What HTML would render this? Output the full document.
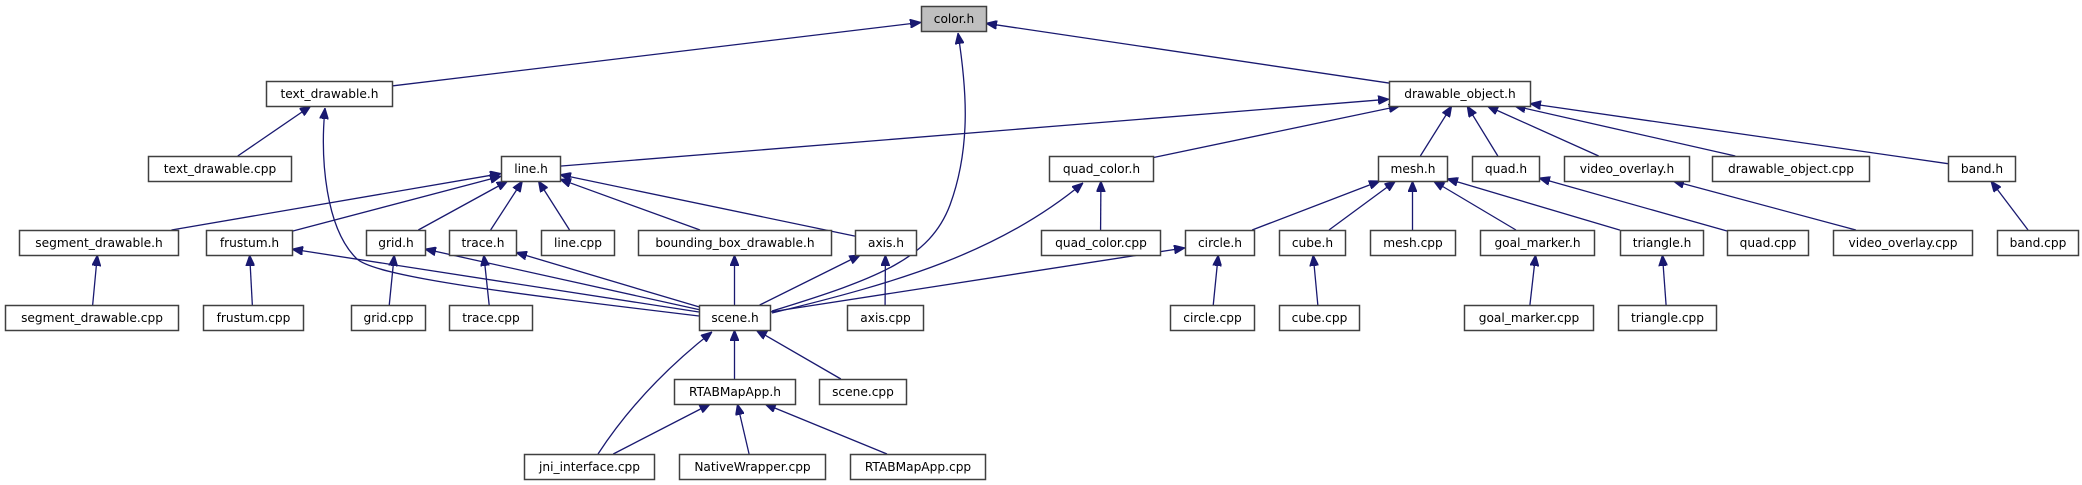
<!DOCTYPE html>
<html><head><meta charset="utf-8"><style>
html,body{margin:0;padding:0;background:#fff;}
svg{display:block;}
text{font-family:"DejaVu Sans","Liberation Sans",sans-serif;font-size:12.2px;fill:#000;}
</style></head><body>
<svg id="g" width="2082" height="485" viewBox="0 0 2082 485" xmlns="http://www.w3.org/2000/svg">
<defs><marker id="a" markerWidth="11" markerHeight="9" refX="11" refY="4.5" orient="auto" markerUnits="userSpaceOnUse"><path d="M0,0L11,4.5L0,9z" fill="#191970" stroke="#191970"/></marker></defs>
<g id="edges" fill="none" stroke="#191970" stroke-width="1.3">
<path d="M772,311 C 880,278 930,258 950,205 C 972,145 966,85 958,33" marker-end="url(#a)"/>
<path d="M699,316 C 500,292 372,276 356,258 C 326,228 320,160 325,108" marker-end="url(#a)"/>
<path d="M772,313 C 900,282 1000,252 1083,183" marker-end="url(#a)"/>
<path d="M598,454 C 630,405 670,365 712,332" marker-end="url(#a)"/>
</g>
<g id="nodes"></g>
</svg>
<script>
var R=[6,81,156,230,305,379,454],H=25;
var N={
"color.h":[921,986,0,1],
"text_drawable.h":[266,392,1],"drawable_object.h":[1389,1530,1],
"text_drawable.cpp":[148,291,2],"line.h":[501,560,2],"quad_color.h":[1049,1153,2],"mesh.h":[1378,1447,2],"quad.h":[1472,1539,2],"video_overlay.h":[1564,1689,2],"drawable_object.cpp":[1712,1869,2],"band.h":[1948,2015,2],
"segment_drawable.h":[19,178,3],"frustum.h":[206,292,3],"grid.h":[366,425,3],"trace.h":[449,516,3],"line.cpp":[541,614,3],"bounding_box_drawable.h":[638,831,3],"axis.h":[855,916,3],"quad_color.cpp":[1041,1160,3],"circle.h":[1185,1254,3],"cube.h":[1279,1345,3],"mesh.cpp":[1370,1455,3],"goal_marker.h":[1480,1594,3],"triangle.h":[1620,1703,3],"quad.cpp":[1727,1808,3],"video_overlay.cpp":[1833,1972,3],"band.cpp":[1997,2078,3],
"segment_drawable.cpp":[5,178,4],"frustum.cpp":[203,303,4],"grid.cpp":[351,425,4],"trace.cpp":[449,532,4],"scene.h":[699,770,4],"axis.cpp":[847,923,4],"circle.cpp":[1170,1254,4],"cube.cpp":[1279,1359,4],"goal_marker.cpp":[1464,1593,4],"triangle.cpp":[1618,1716,4],
"RTABMapApp.h":[674,795,5],"scene.cpp":[819,906,5],
"jni_interface.cpp":[524,654,6],"NativeWrapper.cpp":[679,825,6],"RTABMapApp.cpp":[850,985,6]
};
var E=[["text_drawable.h","color.h"],["drawable_object.h","color.h"],["text_drawable.cpp","text_drawable.h"],
["line.h","drawable_object.h"],["quad_color.h","drawable_object.h"],["mesh.h","drawable_object.h"],["quad.h","drawable_object.h"],["video_overlay.h","drawable_object.h"],["drawable_object.cpp","drawable_object.h"],["band.h","drawable_object.h"],
["segment_drawable.h","line.h"],["frustum.h","line.h"],["grid.h","line.h"],["trace.h","line.h"],["line.cpp","line.h"],["bounding_box_drawable.h","line.h"],["axis.h","line.h"],
["segment_drawable.cpp","segment_drawable.h"],["frustum.cpp","frustum.h"],["scene.h","frustum.h"],["grid.cpp","grid.h"],["scene.h","grid.h"],["trace.cpp","trace.h"],["scene.h","trace.h"],["scene.h","bounding_box_drawable.h"],["scene.h","axis.h"],["axis.cpp","axis.h"],["quad_color.cpp","quad_color.h"],
["circle.h","mesh.h"],["cube.h","mesh.h"],["mesh.cpp","mesh.h"],["goal_marker.h","mesh.h"],["triangle.h","mesh.h"],
["quad.cpp","quad.h"],["video_overlay.cpp","video_overlay.h"],["band.cpp","band.h"],
["scene.h","circle.h"],["circle.cpp","circle.h"],["cube.cpp","cube.h"],["goal_marker.cpp","goal_marker.h"],["triangle.cpp","triangle.h"],
["RTABMapApp.h","scene.h"],["scene.cpp","scene.h"],["jni_interface.cpp","RTABMapApp.h"],["NativeWrapper.cpp","RTABMapApp.h"],["RTABMapApp.cpp","RTABMapApp.h"]];
var NS="http://www.w3.org/2000/svg",eg=document.getElementById("edges"),ng=document.getElementById("nodes");
function box(n){var d=N[n];return {x1:d[0],x2:d[1],y1:R[d[2]],y2:R[d[2]]+H,cx:(d[0]+d[1])/2,cy:R[d[2]]+H/2};}
function clip(b,dx,dy){var t=1e9;if(dx)t=Math.min(t,((b.x2-b.x1)/2)/Math.abs(dx));if(dy)t=Math.min(t,(H/2)/Math.abs(dy));return [b.cx+dx*t,b.cy+dy*t];}
E.forEach(function(e){var c=box(e[0]),p=box(e[1]);var dx=p.cx-c.cx,dy=p.cy-c.cy;
var s=clip(c,dx,dy),t=clip(p,-dx,-dy);
var l=document.createElementNS(NS,"line");l.setAttribute("x1",s[0]);l.setAttribute("y1",s[1]);l.setAttribute("x2",t[0]);l.setAttribute("y2",t[1]);l.setAttribute("marker-end","url(#a)");eg.appendChild(l);});
for(var k in N){var b=box(k);var r=document.createElementNS(NS,"rect");r.setAttribute("x",b.x1+0.5);r.setAttribute("y",b.y1+0.5);r.setAttribute("width",b.x2-b.x1);r.setAttribute("height",H);r.setAttribute("fill",N[k][3]?"#bfbfbf":"#fff");r.setAttribute("stroke","#404040");r.setAttribute("stroke-width","1.5");ng.appendChild(r);
var tx=document.createElementNS(NS,"text");tx.setAttribute("x",b.cx+0.5);tx.setAttribute("y",b.y1+17);tx.setAttribute("text-anchor","middle");tx.textContent=k;ng.appendChild(tx);}
</script>
</body></html>
